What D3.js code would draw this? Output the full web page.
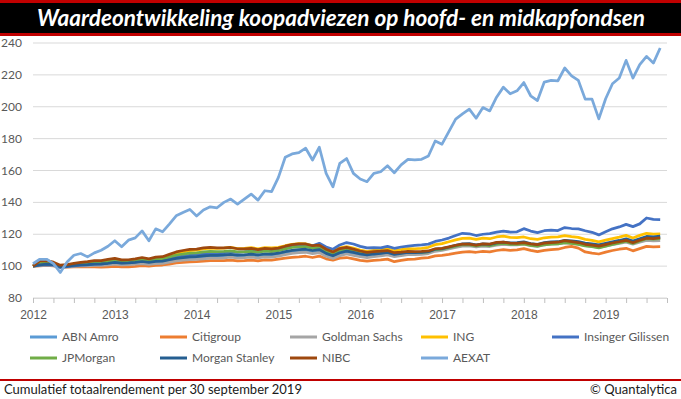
<!DOCTYPE html>
<html>
<head>
<meta charset="utf-8">
<script src="https://cdn.jsdelivr.net/npm/d3@7"></script>
<style>
body { margin: 0; background: #fff; }
svg { display: block; font-family: Lato, "Open Sans", sans-serif; }
.grid line { stroke: #d9d9d9; stroke-width: 1; }
.axis text { fill: #595959; font-size: 12px; }
.legend text { fill: #595959; font-size: 12px; }
</style>
</head>
<body>
<svg width="681" height="399"></svg>
<script>
// maandelijks, jan 2012 t/m sep 2019 (93 punten)
var years = ["2012", "2013", "2014", "2015", "2016", "2017", "2018", "2019"];
var yTicks = [80, 100, 120, 140, 160, 180, 200, 220, 240];
var names = ["ABN Amro", "Citigroup", "Goldman Sachs", "ING", "Insinger Gilissen",
             "JPMorgan", "Morgan Stanley", "NIBC", "AEXAT"];

var abnAmro = [100,100.5,100.9,100.6,99.4,99.8,100.2,100.5,100.6,100.9,101,101.4,101.8,101.4,101.5,101.9,102.4,101.9,102.4,102.5,
  103.4,104.2,104.7,105.1,105.2,105.7,106.1,106.1,106.3,106.7,106.2,106.4,106.8,106.3,106.9,106.8,107.4,108.4,109.1,109.6,
  109.8,109,109.6,107.2,105.8,107.7,108.7,107.9,106.9,106.3,106.9,107.3,107.9,106.7,107.4,108,107.9,108.1,108.6,110.1,
  110.5,111.5,112.6,113.5,113.6,112.9,113.5,113.1,114.1,114.6,114.1,114.2,114.7,113.7,113.2,114.2,114.7,114.8,115.7,115.3,
  114.9,113.9,113.5,112.8,113.8,114.7,115.6,116.5,115.2,116.6,117.9,117.6,118];
var citigroup = [100,100.2,100.4,100.1,99.3,99.4,99.6,99.7,99.6,99.5,99.4,99.6,99.8,99.5,99.6,99.9,100.3,100,100.5,100.7,
  101.3,102,102.4,102.7,102.8,103.2,103.5,103.4,103.5,103.8,103.3,103.4,103.8,103.3,103.9,103.8,104.4,105,105.5,105.8,
  106.2,105.4,106.3,104.6,103.7,105,105.4,104.5,103.6,103.2,103.6,103.9,104.4,102.8,103.6,104.3,104.4,105,105.3,106.4,
  106.8,107.4,108.1,108.8,109.1,108.7,109.2,109,109.8,110.3,109.9,110.2,111,109.9,109.1,109.9,110.3,110.6,111.7,112.4,
  111.3,108.9,108.2,107.6,108.8,109.8,110.6,111.2,109.6,111,112.4,112.1,112.2];
var goldmanSachs = [100,100.3,100.6,100.3,99.2,99.5,99.8,100.1,100.2,100.4,100.5,100.8,101.2,100.8,100.9,101.2,101.6,101.1,101.6,101.7,
  102.5,103.3,103.7,104.1,104.2,104.6,105,105,105.2,105.6,105.1,105.3,105.7,105.2,105.8,105.7,106.3,107.2,108,108.5,
  108.7,107.9,108.5,106.2,104.8,106.6,107.6,106.8,105.9,105.4,106,106.4,107,106,106.6,107.2,107.2,107.4,107.9,109.3,
  109.8,110.8,111.8,112.6,112.7,112,112.6,112.3,113.2,113.7,113.3,113.3,113.8,112.9,112.4,113.3,113.8,113.9,114.6,114.2,
  113.8,112.9,112.4,111.7,112.6,113.4,114.2,115,113.8,115,116.2,115.8,116];
var ing = [100,101.5,102,101.6,100,100.6,101.2,101.8,102.1,102.6,102.8,103.4,104,103.3,103.5,104.1,104.8,104.2,105,105.4,
  106.8,108.2,109,109.7,110,110.8,111.3,111.2,111.3,111.7,111,111.2,111.6,110.9,111.6,111.4,111.8,112.8,113.6,114.1,
  114,112.9,113.4,110.8,109.2,111.4,112.3,111.3,110.1,109.3,109.9,110.3,110.9,109.6,110.3,111,110.9,111.2,111.8,113.5,
  114.1,115.3,116.5,117.4,117.6,116.8,117.6,117.2,118.3,118.8,118,117.9,118.3,117.2,116.8,117.8,118.2,118.4,119.1,118.5,
  118,116.8,116.2,115.2,116.3,117.3,118.2,119.3,117.6,119.3,120.6,120.1,120.3];
var insingerGilissen = [100,100.6,101,100.6,99.2,99.7,100.1,100.6,100.8,101.2,101.3,101.8,102.4,102,102.2,102.7,103.3,102.8,103.5,103.7,
  104.7,105.7,106.3,106.8,107,107.6,108.1,108.2,108.5,109,108.6,108.9,109.4,109,109.8,109.8,110.5,111.6,112.5,113.1,
  113.5,112.8,114.3,112,110.6,113.3,114.8,113.9,112.4,111.4,111.6,111.5,112.4,111.2,112,112.6,113,113.3,113.8,115.5,
  116.4,117.6,119.2,120.6,120.3,119.2,120,120.4,121.3,122,121.4,121.5,123.5,122,121,122.2,122.6,122.3,124.2,123.6,
  123.4,122.2,121.2,119.6,121.6,123.4,124.6,126.2,124.8,126.5,130.2,129.3,129.2];
var jpMorgan = [100,101.6,102,101.6,100,100.4,100.9,101.5,101.8,102.3,102.4,102.9,103.5,102.9,103,103.5,104.1,103.6,104.3,104.5,
  105.7,106.9,107.6,108.1,108.3,108.9,109.2,109.1,109.2,109.5,108.9,109,109.3,108.7,109.4,109.1,109.7,110.8,111.7,112.1,
  112.2,111.3,111.8,109.3,107.7,109.7,110.6,109.6,108.5,107.8,108.3,108.6,109.1,107.8,108.3,108.8,108.6,108.7,109,110.4,
  110.7,111.6,112.6,113.4,113.4,112.7,113.3,112.9,113.8,114.2,113.6,113.6,114,113,112.5,113.4,113.8,113.9,114.7,114.2,
  113.7,112.7,112.2,111.5,112.6,113.6,114.6,115.6,114.3,115.8,117.2,116.9,117.3];
var morganStanley = [100,100.8,101.3,101,99.6,100,100.4,100.8,101,101.3,101.4,101.8,102.3,101.9,102,102.4,102.9,102.4,103,103.1,
  104,104.9,105.4,105.8,105.9,106.4,106.8,106.8,107,107.4,106.9,107.1,107.5,107,107.6,107.5,108.1,109.1,109.9,110.4,
  110.6,109.8,110.4,108,106.5,108.4,109.4,108.6,107.6,107,107.6,108,108.6,107.4,108,108.6,108.5,108.7,109.1,110.6,
  111,112,113.1,114,114.1,113.4,114,113.6,114.6,115.1,114.6,114.7,115.2,114.2,113.7,114.7,115.2,115.3,116.2,115.8,
  115.4,114.4,114,113.3,114.3,115.2,116.1,117.1,115.7,117.2,118.6,118.3,118.8];
var nibc = [100,103.3,103.5,102.5,100.6,101,101.7,102.4,102.8,103.5,103.4,104.2,104.9,103.9,104,104.6,105.4,104.6,105.6,105.9,
  107.4,108.9,109.8,110.5,110.7,111.4,111.7,111.5,111.5,111.7,110.9,110.9,111.1,110.4,111.2,110.8,111.3,112.5,113.5,113.9,
  113.9,112.8,113.2,110.6,108.9,111,111.8,110.7,109.5,108.6,109.1,109.4,109.8,108.4,108.8,109.3,109.1,109.2,109.5,110.9,
  111.2,112.1,113.1,113.8,113.8,113.2,114,113.8,114.9,115.1,114.4,114.3,114.7,113.9,113.5,114.4,114.8,115,116,115.4,
  114.8,113.7,113.2,112.5,113.5,114.5,115.3,116.2,114.7,116.2,117.5,117.3,117.8];
var aexat = [101.5,104.3,104.3,101.6,96,102.6,106.8,107.9,105.8,108.3,110,112.5,115.9,112.1,116.3,117.7,122.1,115.9,123.4,121.5,
  126.4,131.6,133.7,135.6,131.4,135.2,137.2,136.6,140,142.1,138.9,142.1,145.2,141.4,147.3,146.7,155.7,168.3,170.4,171.2,
  174,166.6,174.6,158.2,149.8,164.5,167.5,158.2,154.7,153,158.2,159.2,163,158.6,163.5,167,166.6,167,169.1,178.5,
  176.5,184.4,192.2,195.5,198.5,192.8,199.5,197.4,206,212.3,208.1,210,215.2,206.9,203.9,215.5,216.5,216.3,224.3,219.4,
  216.5,204.8,204.8,192.4,205,214.4,218,229.1,218,226.4,231.6,227.4,236.9];

var series = [abnAmro, citigroup, goldmanSachs, ing, insingerGilissen, jpMorgan, morganStanley, nibc, aexat];
var colors = ["#5b9bd5", "#ed7d31", "#a5a5a5", "#ffc000", "#4472c4", "#70ad47", "#255e91", "#9e480e", "#7aa9db"];

var svg = d3.select("svg");

// titelbalk
svg.append("rect").attr("x", 0).attr("y", 0).attr("width", 681).attr("height", 3).attr("fill", "#c00000");
svg.append("rect").attr("x", 0).attr("y", 3).attr("width", 681).attr("height", 30).attr("fill", "#000");
svg.append("rect").attr("x", 0).attr("y", 33).attr("width", 681).attr("height", 3).attr("fill", "#c00000");
svg.append("text")
    .attr("x", 341).attr("y", 26)
    .attr("text-anchor", "middle")
    .attr("textLength", 608).attr("lengthAdjust", "spacingAndGlyphs")
    .style("font-size", "22px").style("font-weight", "bold").style("font-style", "italic")
    .style("fill", "#fff")
    .text("Waardeontwikkeling koopadviezen op hoofd- en midkapfondsen");

var x = d3.scaleLinear().domain([0, 93]).range([33, 667]);
var y = d3.scaleLinear().domain([80, 240]).range([298, 43]);

// rasterlijnen
svg.append("g").attr("class", "grid")
  .selectAll("line").data(yTicks).enter().append("line")
    .attr("x1", x(0)).attr("x2", x(93))
    .attr("y1", function(d) { return y(d); })
    .attr("y2", function(d) { return y(d); });

// y-as labels
svg.append("g").attr("class", "axis")
  .selectAll("text").data(yTicks).enter().append("text")
    .attr("x", 22).attr("y", function(d) { return y(d) + 4; })
    .attr("text-anchor", "end")
    .text(function(d) { return d; });

// x-as met kwartaalstreepjes
var xAxis = svg.append("g").attr("class", "axis")
    .attr("transform", "translate(0," + y(80) + ")")
    .call(d3.axisBottom(x)
      .tickValues(d3.range(0, 94, 3))
      .tickSize(5).tickSizeOuter(0)
      .tickFormat(function(d) { return d % 12 === 0 ? years[d / 12] : ""; }));
xAxis.select(".domain").attr("stroke", "#d9d9d9");
xAxis.selectAll(".tick line").attr("stroke", "#bfbfbf");
xAxis.selectAll(".tick text").attr("dy", "1.1em");

var line = d3.line()
    .x(function(d, i) { return x(i); })
    .y(function(d) { return y(d); });

svg.append("g").selectAll("path").data(series).enter().append("path")
    .attr("d", line)
    .attr("fill", "none")
    .attr("stroke", function(d, i) { return colors[i]; })
    .attr("stroke-width", 2.75)
    .attr("stroke-linejoin", "round");

// legenda
var legX = [30, 160, 290, 421, 552];
var legend = svg.append("g").attr("class", "legend")
  .selectAll("g").data(names).enter().append("g")
    .attr("transform", function(d, i) {
      return "translate(" + legX[i % 5] + "," + (i < 5 ? 337 : 358) + ")";
    });
legend.append("line")
    .attr("x1", 0).attr("x2", 27)
    .attr("stroke", function(d, i) { return colors[i]; })
    .attr("stroke-width", 3);
legend.append("text")
    .attr("x", 32).attr("y", 4)
    .text(function(d) { return d; });

// voet
svg.append("rect").attr("x", 0).attr("y", 379).attr("width", 681).attr("height", 2).attr("fill", "#c00000");
svg.append("text").attr("x", 4).attr("y", 394)
    .style("font-size", "13px").style("fill", "#1a1a1a")
    .text("Cumulatief totaalrendement per 30 september 2019");
svg.append("text").attr("x", 677).attr("y", 394)
    .attr("text-anchor", "end")
    .style("font-size", "13px").style("fill", "#1a1a1a")
    .text("\u00a9 Quantalytica");
</script>
</body>
</html>
